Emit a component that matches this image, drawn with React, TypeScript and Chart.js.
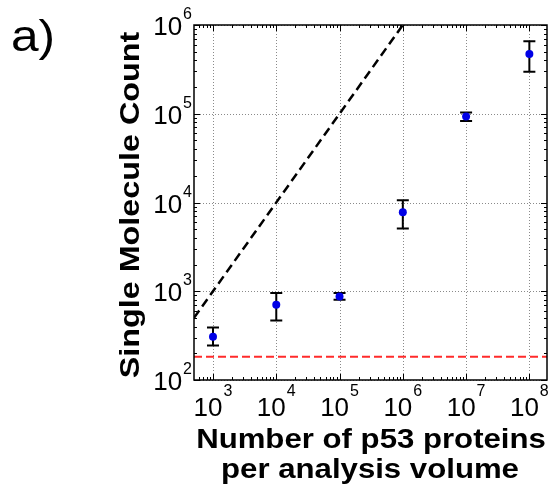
import { useEffect, useRef } from "react";
import { Chart, registerables } from "chart.js";

Chart.register(...registerables);

// ---- data ----
const proteinCounts = [1e3, 1e4, 1e5, 1e6, 1e7, 1e8];
const moleculeCounts = [308, 703, 873, 7760, 92900, 470000];
const errorLow = [244, 468, 802, 5080, 83000, 297000];
const errorHigh = [390, 955, 955, 10600, 103000, 655000];
const idealLineX = [501, 1e6];
const idealLineY = [501, 1e6];
const detectionLimitX = [501, 190000000];
const detectionLimitY = [183, 183];
const xTickValues = [1e3, 1e4, 1e5, 1e6, 1e7, 1e8];
const xTickExponents = ["3", "4", "5", "6", "7", "8"];
const yTickValues = [1e2, 1e3, 1e4, 1e5, 1e6];
const yTickExponents = ["2", "3", "4", "5", "6"];
const xAxisMin = 501;
const xAxisMax = 190000000;
const yAxisMin = 100;
const yAxisMax = 1e6;
const xTitleLines = ["Number of p53 proteins", "per analysis volume"];
const yTitle = "Single Molecule Count";
const panelLabel = "a)";

const FONT = '"Liberation Sans", Arial, Helvetica, sans-serif';

function drawPower(ctx: CanvasRenderingContext2D, exp: string, x: number, baseline: number, align: "center" | "right", supOffset: number) {
  ctx.font = `26px ${FONT}`;
  const w10 = ctx.measureText("10").width;
  ctx.font = `16px ${FONT}`;
  const we = ctx.measureText(exp).width;
  const total = w10 + 1 + we;
  const left = align === "center" ? x - total / 2 : x - total;
  ctx.textAlign = "left";
  ctx.textBaseline = "alphabetic";
  ctx.font = `26px ${FONT}`;
  ctx.fillText("10", left, baseline);
  ctx.font = `16px ${FONT}`;
  ctx.fillText(exp, left + w10 + 1, baseline - supOffset);
}

function drawStretched(ctx: CanvasRenderingContext2D, text: string, font: string, targetWidth: number, sxOverride?: number) {
  ctx.font = font;
  const m = ctx.measureText(text);
  const ink = m.actualBoundingBoxLeft + m.actualBoundingBoxRight;
  const sx = sxOverride ?? targetWidth / ink;
  ctx.save();
  ctx.scale(sx, 1);
  ctx.textAlign = "center";
  ctx.textBaseline = "alphabetic";
  ctx.fillText(text, 0, 0);
  ctx.restore();
  return sx;
}

function minorValues(min: number, max: number) {
  const out: { v: number; major: boolean }[] = [];
  for (let e = Math.floor(Math.log10(min)); e <= Math.ceil(Math.log10(max)); e++) {
    for (let d = 1; d <= 9; d++) {
      const v = d * Math.pow(10, e);
      if (v >= min && v <= max) out.push({ v, major: d === 1 });
    }
  }
  return out;
}

const framePlugin = {
  id: "frame",
  beforeDatasetsDraw(chart: any) {
    const { ctx, chartArea: a, scales } = chart;
    const x = scales.x;
    const y = scales.y;
    ctx.save();
    ctx.strokeStyle = "#8a8a8a";
    ctx.lineWidth = 1;
    ctx.setLineDash([1, 2]);
    xTickValues.forEach((v) => {
      const px = Math.round(x.getPixelForValue(v)) + 0.5;
      ctx.beginPath();
      ctx.moveTo(px, a.top);
      ctx.lineTo(px, a.bottom);
      ctx.stroke();
    });
    yTickValues.forEach((v) => {
      const py = Math.round(y.getPixelForValue(v)) + 0.5;
      ctx.beginPath();
      ctx.moveTo(a.left, py);
      ctx.lineTo(a.right, py);
      ctx.stroke();
    });
    ctx.setLineDash([]);
    ctx.strokeStyle = "#000";
    ctx.lineWidth = 2;
    proteinCounts.forEach((v, i) => {
      const px = x.getPixelForValue(v);
      const top = y.getPixelForValue(errorHigh[i]);
      const bot = y.getPixelForValue(errorLow[i]);
      ctx.beginPath();
      ctx.moveTo(px, top);
      ctx.lineTo(px, bot);
      ctx.moveTo(px - 6, top);
      ctx.lineTo(px + 6, top);
      ctx.moveTo(px - 6, bot);
      ctx.lineTo(px + 6, bot);
      ctx.stroke();
    });
    ctx.restore();
  },
  afterDatasetsDraw(chart: any) {
    const { ctx, chartArea: a, scales } = chart;
    const x = scales.x;
    const y = scales.y;
    ctx.save();
    ctx.strokeStyle = "#000";
    ctx.lineWidth = 1;
    minorValues(xAxisMin, xAxisMax).forEach(({ v, major }) => {
      const px = Math.round(x.getPixelForValue(v)) + 0.5;
      const len = major ? 6 : 3;
      ctx.beginPath();
      ctx.moveTo(px, a.bottom);
      ctx.lineTo(px, a.bottom - len);
      ctx.moveTo(px, a.top);
      ctx.lineTo(px, a.top + len);
      ctx.stroke();
    });
    minorValues(yAxisMin, yAxisMax).forEach(({ v, major }) => {
      const py = Math.round(y.getPixelForValue(v)) + 0.5;
      const len = major ? 6 : 3;
      ctx.beginPath();
      ctx.moveTo(a.left, py);
      ctx.lineTo(a.left + len, py);
      ctx.moveTo(a.right, py);
      ctx.lineTo(a.right - len, py);
      ctx.stroke();
    });
    ctx.lineWidth = 1.5;
    ctx.strokeRect(a.left, a.top, a.right - a.left, a.bottom - a.top);
    ctx.restore();
  },
  afterDraw(chart: any) {
    const { ctx, scales } = chart;
    const x = scales.x;
    const y = scales.y;
    ctx.save();
    ctx.fillStyle = "#000";
    xTickValues.forEach((v, i) => {
      drawPower(ctx, xTickExponents[i], x.getPixelForValue(v), 416, "center", 20);
    });
    yTickValues.forEach((v, i) => {
      drawPower(ctx, yTickExponents[i], 192, y.getPixelForValue(v) + 10, "right", 16);
    });
    ctx.save();
    ctx.translate(371, 448);
    const sx = drawStretched(ctx, xTitleLines[0], `bold 28px ${FONT}`, 348);
    ctx.restore();
    ctx.save();
    ctx.translate(370, 478);
    drawStretched(ctx, xTitleLines[1], `bold 28px ${FONT}`, 295, sx);
    ctx.restore();
    ctx.save();
    ctx.translate(139, 205);
    ctx.rotate(-Math.PI / 2);
    drawStretched(ctx, yTitle, `bold 28px ${FONT}`, 346);
    ctx.restore();
    ctx.save();
    ctx.translate(33, 51);
    drawStretched(ctx, panelLabel, `44px ${FONT}`, 40);
    ctx.restore();
    ctx.restore();
  },
};

export default function App() {
  const ref = useRef<HTMLCanvasElement | null>(null);
  useEffect(() => {
    if (!ref.current) return;
    const chart = new Chart(ref.current, {
      type: "scatter",
      data: {
        datasets: [
          {
            label: "measured",
            data: proteinCounts.map((v, i) => ({ x: v, y: moleculeCounts[i] })),
            backgroundColor: "#0000e6",
            borderColor: "#0000e6",
            pointRadius: 4,
            pointBorderWidth: 0,
            showLine: false,
          },
          {
            label: "ideal",
            data: idealLineX.map((v, i) => ({ x: v, y: idealLineY[i] })),
            borderColor: "#000",
            borderWidth: 2.5,
            borderDash: [9, 5],
            pointRadius: 0,
            showLine: true,
          },
          {
            label: "detection limit",
            data: detectionLimitX.map((v, i) => ({ x: v, y: detectionLimitY[i] })),
            borderColor: "#ff2b2b",
            borderWidth: 2,
            borderDash: [8, 4],
            pointRadius: 0,
            showLine: true,
          },
        ],
      },
      options: {
        animation: false,
        responsive: false,
        devicePixelRatio: 1,
        layout: { padding: { top: 25, right: 6, left: 0, bottom: 0 } },
        plugins: { legend: { display: false }, tooltip: { enabled: false } },
        scales: {
          x: {
            type: "logarithmic",
            min: xAxisMin,
            max: xAxisMax,
            ticks: { display: false },
            grid: { display: false },
            border: { display: false },
            afterFit: (s: any) => {
              s.height = 118;
            },
          },
          y: {
            type: "logarithmic",
            min: yAxisMin,
            max: yAxisMax,
            ticks: { display: false },
            grid: { display: false },
            border: { display: false },
            afterFit: (s: any) => {
              s.width = 194;
            },
          },
        },
      },
      plugins: [framePlugin],
    } as any);
    return () => chart.destroy();
  }, []);
  return (
    <div style={{ position: "fixed", left: 0, top: 0, width: 553, height: 498, background: "#fff" }}>
      <canvas ref={ref} width={553} height={498} />
    </div>
  );
}
